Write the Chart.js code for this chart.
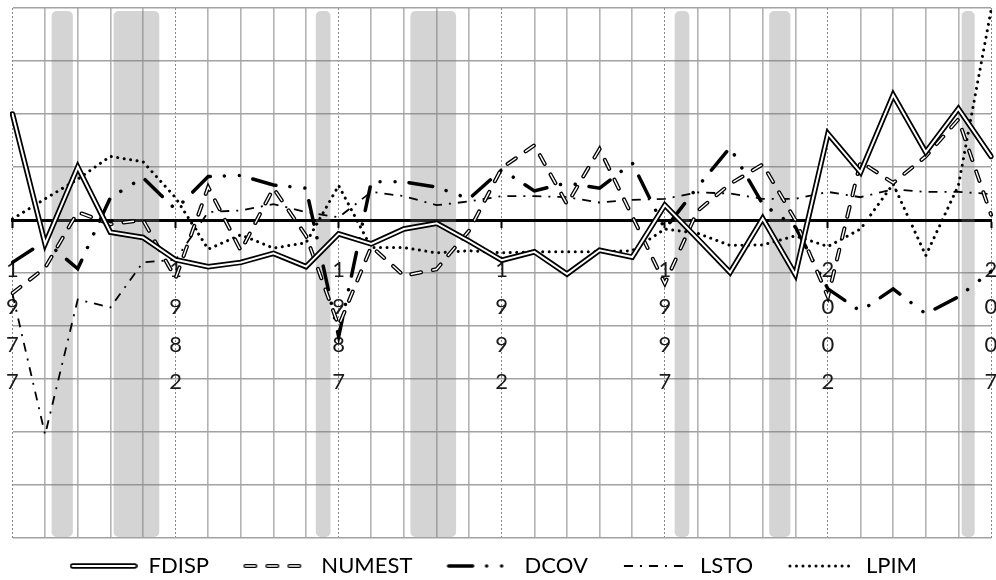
<!DOCTYPE html>
<html>
<head>
<meta charset="utf-8">
<script src="https://cdn.jsdelivr.net/npm/chart.js@4.4.1/dist/chart.umd.min.js"></script>
<style>
  html, body { margin: 0; padding: 0; background: #fff; }
</style>
</head>
<body>
<canvas id="chart" width="996" height="580"></canvas>
<script>
// categories
const years = [1977, 1978, 1979, 1980, 1981, 1982, 1983, 1984, 1985, 1986,
               1987, 1988, 1989, 1990, 1991, 1992, 1993, 1994, 1995, 1996,
               1997, 1998, 1999, 2000, 2001, 2002, 2003, 2004, 2005, 2006, 2007];
const tickYears = [1977, 1982, 1987, 1992, 1997, 2002, 2007];

// series
const fdisp  = [2.0, -0.45, 1.0, -0.23, -0.33, -0.75, -0.88, -0.8, -0.63, -0.88,
                -0.26, -0.45, -0.17, -0.06, -0.4, -0.76, -0.6, -1.02, -0.57, -0.7,
                0.28, -0.35, -0.99, 0.03, -1.03, 1.63, 0.9, 2.36, 1.28, 2.1, 1.2];
const numest = [-1.38, -0.9, 0.15, -0.08, 0.0, -1.1, 0.62, -0.58, 0.6, -0.3,
                -2.0, -0.5, -1.05, -0.93, -0.2, 0.98, 1.41, 0.3, 1.34, 0.07,
                -1.2, 0.17, 0.68, 1.05, 0.0, -1.45, 1.1, 0.7, 1.2, 1.9, 0.1];
const dcov   = [-0.8, -0.4, -0.92, 0.42, 0.8, 0.2, 0.82, 0.84, 0.66, 0.6,
                -2.2, 0.72, 0.72, 0.62, 0.4, 0.95, 0.55, 0.7, 0.6, 1.08,
                -0.17, 0.62, 1.37, 0.3, -0.13, -1.3, -1.72, -1.3, -1.77, -1.45, -0.97];
const lsto   = [-1.4, -4.05, -1.5, -1.65, -0.8, -0.75, 0.15, 0.18, 0.3, 0.15,
                0.05, 0.53, 0.45, 0.28, 0.35, 0.45, 0.45, 0.43, 0.33, 0.38,
                0.4, 0.52, 0.5, 0.4, 0.4, 0.53, 0.43, 0.58, 0.53, 0.53, 0.49];
const lpim   = [0.02, 0.4, 0.77, 1.2, 1.1, 0.42, -0.55, -0.28, -0.53, -0.43,
                0.65, -0.52, -0.52, -0.62, -0.58, -0.62, -0.6, -0.6, -0.6, -0.58,
                -0.17, -0.25, -0.48, -0.47, -0.3, -0.5, -0.17, 0.68, -0.67, 0.65, 3.95];

// shaded periods (in years)
const shadeStart = [1978.2, 1980.1, 1986.3, 1989.2, 1997.3, 2000.2, 2006.1];
const shadeEnd   = [1978.85, 1981.5, 1986.75, 1990.6, 1997.75, 2000.85, 2006.5];

const seriesNames = ['FDISP', 'NUMEST', 'DCOV', 'LSTO', 'LPIM'];

function isTickYear(c) {
    return c.index !== undefined && tickYears.includes(years[c.index]);
}

// gray bars behind the lines
const shadePlugin = {
    id: 'shade',
    beforeDatasetsDraw(chart) {
        const {ctx, chartArea, scales: {x}} = chart;
        ctx.save();
        ctx.fillStyle = 'rgba(120,120,120,0.32)';
        shadeStart.forEach((s, k) => {
            const x1 = x.getPixelForValue(s - years[0]);
            const x2 = x.getPixelForValue(shadeEnd[k] - years[0]);
            ctx.beginPath();
            ctx.roundRect(x1, chartArea.top + 3, x2 - x1, chartArea.bottom - chartArea.top - 4, 5);
            ctx.fill();
        });
        ctx.restore();
    }
};

// legend line samples
function sample(strokes) {
    const c = document.createElement('canvas');
    c.width = 68;
    c.height = 14;
    const g = c.getContext('2d');
    strokes.forEach(s => {
        g.lineWidth = s.w;
        g.strokeStyle = s.color;
        g.setLineDash(s.dash);
        g.lineCap = s.cap;
        g.beginPath();
        g.moveTo(3, 7);
        g.lineTo(65, 7);
        g.stroke();
    });
    return c;
}

const sty = {
    fdispOut: {w: 5.5, color: '#000', dash: [], cap: 'round'},
    fdispIn:  {w: 2, color: '#fff', dash: [], cap: 'round'},
    numOut:   {w: 4, color: '#000', dash: [10, 12], cap: 'round'},
    numIn:    {w: 1.4, color: '#fff', dash: [10, 12], cap: 'round'},
    dcov:     {w: 3.5, color: '#000', dash: [24, 14, 0.01, 15, 0.01, 14], cap: 'round'},
    lsto:     {w: 1.8, color: '#000', dash: [9, 7, 2, 7], cap: 'butt'},
    lpim:     {w: 3, color: '#000', dash: [0.01, 6.5], cap: 'round'}
};

const legendImgs = [
    sample([sty.fdispOut, sty.fdispIn]),
    sample([sty.numOut, sty.numIn]),
    sample([sty.dcov]),
    sample([sty.lsto]),
    sample([sty.lpim])
];

function line(label, data, s, order) {
    return {
        label: label,
        data: data,
        borderColor: s.color,
        borderWidth: s.w,
        borderDash: s.dash,
        borderCapStyle: s.cap,
        borderJoinStyle: 'miter',
        pointRadius: 0,
        fill: false,
        tension: 0,
        order: order
    };
}

const ctx = document.getElementById('chart').getContext('2d');
const chart = new Chart(ctx, {
    type: 'line',
    data: {
        labels: years,
        datasets: [
            line('FDISP', fdisp, sty.fdispIn, 0),
            line('FDISP', fdisp, sty.fdispOut, 1),
            line('NUMEST', numest, sty.numIn, 2),
            line('NUMEST', numest, sty.numOut, 3),
            line('DCOV', dcov, sty.dcov, 4),
            line('LSTO', lsto, sty.lsto, 5),
            line('LPIM', lpim, sty.lpim, 6)
        ]
    },
    options: {
        responsive: false,
        animation: false,
        layout: { padding: { left: 12.5, right: 5, top: 8, bottom: -7 } },
        plugins: {
            tooltip: { enabled: false },
            legend: {
                position: 'bottom',
                labels: {
                    usePointStyle: true,
                    pointStyleWidth: 68,
                    padding: 17,
                    color: '#000',
                    font: { family: 'Lato', size: 22 },
                    // trailing spaces widen the gap between legend entries
                    generateLabels: () => seriesNames.map((n, k) => ({
                        text: n + '\u00a0\u00a0\u00a0',
                        pointStyle: legendImgs[k],
                        fillStyle: 'rgba(0,0,0,0)',
                        strokeStyle: 'rgba(0,0,0,0)',
                        lineWidth: 0,
                        hidden: false,
                        datasetIndex: k
                    }))
                }
            }
        },
        scales: {
            x: {
                type: 'category',
                position: { y: 0 },
                offset: false,
                grid: {
                    color: c => isTickYear(c) ? '#868686' : '#b3b3b3',
                    lineWidth: c => isTickYear(c) ? 1 : 1.6,
                    tickColor: c => isTickYear(c) ? '#000' : 'rgba(0,0,0,0)',
                    tickWidth: 2,
                    tickLength: 6
                },
                border: {
                    display: true,
                    color: '#000',
                    width: 3,
                    dash: c => isTickYear(c) ? [2, 2] : []
                },
                ticks: {
                    autoSkip: false,
                    maxRotation: 0,
                    minRotation: 0,
                    padding: 25,
                    color: '#1a1a1a',
                    font: { family: 'Lato', size: 22, lineHeight: '37.5px' },
                    callback: (v, i) => tickYears.includes(years[i]) ? String(years[i]).split('') : ''
                },
                afterFit: s => { s.paddingLeft = 0; s.paddingRight = 0; }
            },
            y: {
                min: -6,
                max: 4,
                ticks: { display: false, stepSize: 1 },
                grid: { color: '#a2a2a2', lineWidth: 1.6, drawTicks: false },
                border: { display: false }
            }
        }
    },
    plugins: [shadePlugin]
});
</script>
</body>
</html>
